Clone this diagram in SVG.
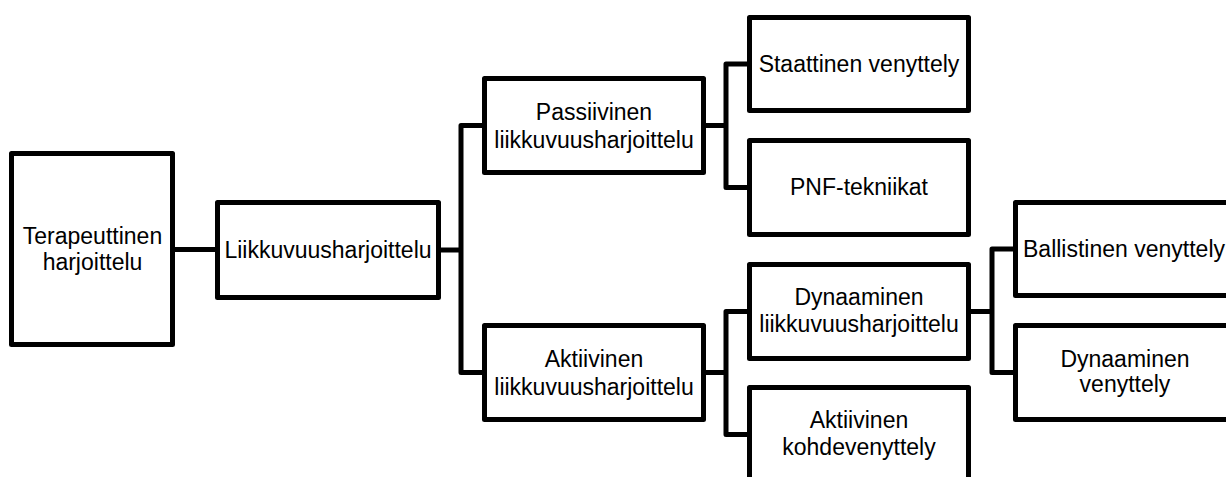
<svg xmlns="http://www.w3.org/2000/svg" width="1226" height="477" viewBox="0 0 1226 477">
<style>
.box{fill:#fff;stroke:#000;stroke-width:5;stroke-linejoin:round}
.con{fill:none;stroke:#000;stroke-width:5;stroke-linejoin:round}
text{font-family:"Liberation Sans",Arial,sans-serif;font-size:23px;fill:#000;text-anchor:middle}
</style>
<rect width="1226" height="477" fill="#fff"/>
<g id="connectors">
<path class="con" d="M175,249.5 H215"/>
<path class="con" d="M441,250 H461"/>
<path class="con" d="M484,125.5 H461 V372.5 H484"/>
<path class="con" d="M706,125.5 H726"/>
<path class="con" d="M749,64 H726 V187.5 H749"/>
<path class="con" d="M706,372.5 H726"/>
<path class="con" d="M749,311.5 H726 V434.5 H749"/>
<path class="con" d="M971,311.5 H992"/>
<path class="con" d="M1015,249 H992 V372.5 H1015"/>
</g>
<g id="n1"><rect class="box" x="11.5" y="153.5" width="161" height="191"/><text x="92.5" y="244">Terapeuttinen</text><text x="92.5" y="270">harjoittelu</text></g>
<g id="n2"><rect class="box" x="217.5" y="202.5" width="221" height="95"/><text x="328" y="258">Liikkuvuusharjoittelu</text></g>
<g id="n3"><rect class="box" x="484.5" y="78.5" width="219" height="94"/><text x="594" y="120">Passiivinen</text><text x="594" y="148">liikkuvuusharjoittelu</text></g>
<g id="n4"><rect class="box" x="749.5" y="17.5" width="219" height="93"/><text x="859" y="72">Staattinen venyttely</text></g>
<g id="n5"><rect class="box" x="749.5" y="140.5" width="219" height="94"/><text x="859" y="195">PNF-tekniikat</text></g>
<g id="n6"><rect class="box" x="484.5" y="325.5" width="219" height="94"/><text x="594" y="367">Aktiivinen</text><text x="594" y="395">liikkuvuusharjoittelu</text></g>
<g id="n7"><rect class="box" x="749.5" y="264.5" width="219" height="94"/><text x="859" y="305">Dynaaminen</text><text x="859" y="332">liikkuvuusharjoittelu</text></g>
<g id="n8"><rect class="box" x="749.5" y="387.5" width="219" height="94"/><text x="859" y="428">Aktiivinen</text><text x="859" y="455">kohdevenyttely</text></g>
<g id="n9"><rect class="box" x="1015.5" y="202.5" width="219" height="93"/><text x="1124" y="257">Ballistinen venyttely</text></g>
<g id="n10"><rect class="box" x="1015.5" y="325.5" width="219" height="94"/><text x="1125" y="367">Dynaaminen</text><text x="1125" y="392">venyttely</text></g>
</svg>
